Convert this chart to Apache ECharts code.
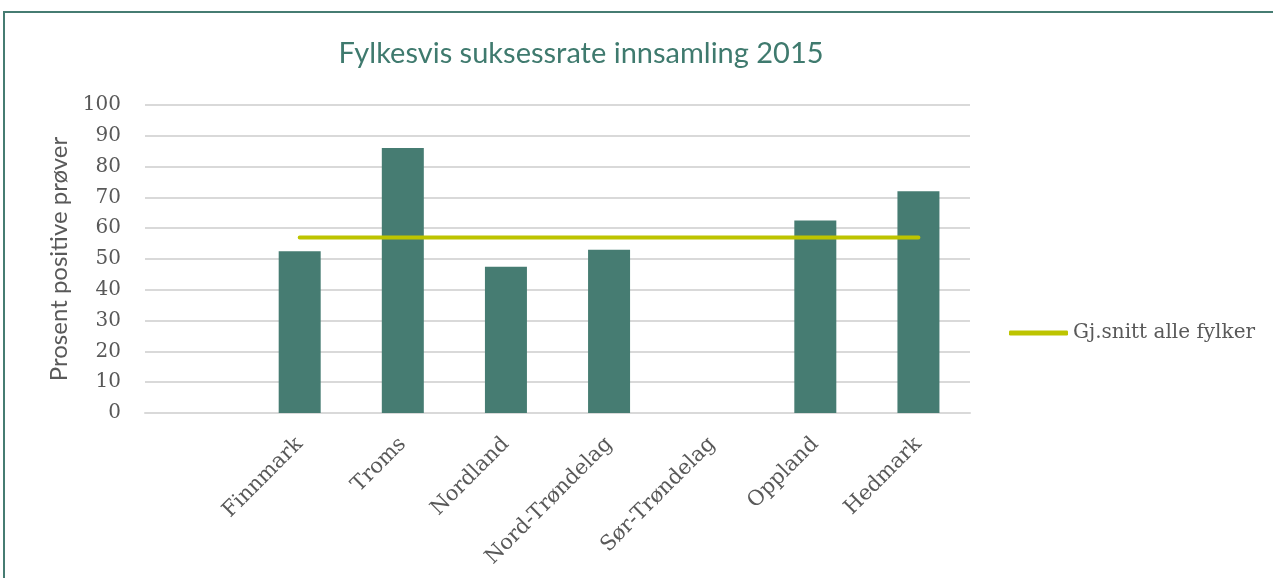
<!DOCTYPE html>
<html>
<head>
<meta charset="utf-8">
<script src="https://cdn.jsdelivr.net/npm/echarts@6/dist/echarts.min.js"></script>
<style>
  html, body { margin: 0; padding: 0; background: #fff; }
  #chart { width: 1273px; height: 578px; }
</style>
</head>
<body>
<div id="chart"></div>
<script>
// first slot is an empty category in the original sheet
const categories = ['', 'Finnmark', 'Troms', 'Nordland', 'Nord-Trøndelag', 'Sør-Trøndelag', 'Oppland', 'Hedmark'];
const successRate = [null, 52.5, 86, 47.5, 53, null, 62.5, 72];
const average = [null, 57, 57, 57, 57, 57, 57, 57];
const yTicks = [0, 100, 10];

const serif = '"DejaVu Serif", "Liberation Serif", serif';
const sans = 'Lato, "Open Sans", sans-serif';
const textColor = '#595959';

const chart = echarts.init(document.getElementById('chart'));

const option = {
  animation: false,
  title: {
    text: 'Fylkesvis suksessrate innsamling 2015',
    left: 576,
    top: 34,
    textAlign: 'center',
    textStyle: {
      fontFamily: sans,
      fontWeight: 'normal',
      fontSize: 29,
      color: '#3f7a6e'
    }
  },
  graphic: [{
    type: 'rect',
    shape: { x: 4, y: 12, width: 1300, height: 600 },
    style: { fill: 'none', stroke: '#467c72', lineWidth: 2 },
    silent: true
  }],
  legend: {
    left: 1004,
    top: 318,
    orient: 'vertical',
    data: [{ name: 'Gj.snitt alle fylker', icon: 'roundRect' }],
    itemWidth: 59,
    itemHeight: 5,
    textStyle: { fontFamily: serif, fontSize: 20, color: textColor }
  },
  grid: { left: 145, right: 303, top: 105, bottom: 165 },
  xAxis: {
    type: 'category',
    data: categories,
    axisLine: { lineStyle: { color: '#d9d9d9', width: 2 } },
    axisTick: { show: false },
    axisLabel: {
      rotate: 45,
      interval: 0,
      margin: 28,
      fontFamily: serif,
      fontSize: 21,
      color: textColor
    }
  },
  yAxis: {
    type: 'value',
    min: yTicks[0],
    max: yTicks[1],
    interval: yTicks[2],
    name: 'Prosent positive prøver',
    nameLocation: 'middle',
    nameGap: 74,
    nameTextStyle: {
      fontFamily: sans,
      fontSize: 24,
      color: textColor
    },
    axisLine: { show: false },
    axisTick: { show: false },
    axisLabel: { fontFamily: serif, fontSize: 20, color: textColor, margin: 24 },
    splitLine: { lineStyle: { color: '#d9d9d9', width: 2 } }
  },
  series: [
    {
      name: 'Suksessrate',
      type: 'bar',
      data: successRate,
      barWidth: 42,
      itemStyle: { color: '#467c72' }
    },
    {
      name: 'Gj.snitt alle fylker',
      type: 'line',
      data: average,
      symbol: 'none',
      lineStyle: { color: '#bdc400', width: 4, cap: 'round' },
      itemStyle: { color: '#bdc400' }
    }
  ]
};

chart.setOption(option);
window.addEventListener('resize', () => chart.resize());
</script>
</body>
</html>
